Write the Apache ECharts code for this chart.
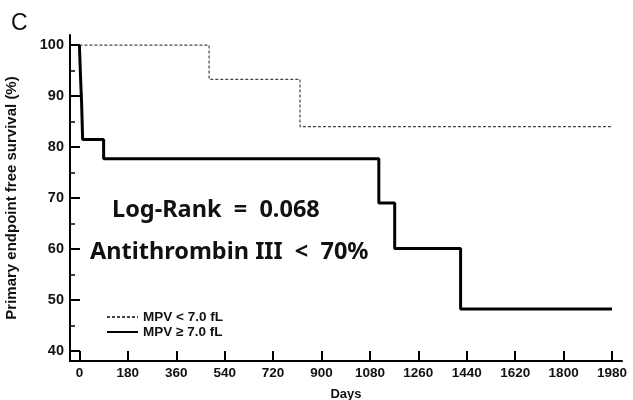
<!DOCTYPE html>
<html>
<head>
<meta charset="utf-8">
<script src="https://cdn.jsdelivr.net/npm/echarts@6/dist/echarts.min.js"></script>
<style>
  html, body { margin: 0; padding: 0; background: #fff; }
  #chart { width: 633px; height: 400px; }
</style>
</head>
<body>
<div id="chart"></div>
<script>
// Kaplan-Meier steps (days, survival %)
const lowDays = [0, 482, 820, 1980]
const lowSurv = [100, 93.3, 84.0, 84.0]
const highDays = [0, 5, 8, 12, 90, 1113, 1172, 1417, 1980]
const highSurv = [100, 92.6, 88.9, 81.5, 77.7, 69.0, 60.1, 48.2, 48.2]

const xTicks = [0, 180, 360, 540, 720, 900, 1080, 1260, 1440, 1620, 1800, 1980]
const yTicks = [40, 50, 60, 70, 80, 90, 100]
const yMinorTicks = [45, 55, 65, 75, 85, 95]

const seriesNames = ['MPV < 7.0 fL', 'MPV \u2265 7.0 fL']

const toPairs = (xs, ys) => xs.map((x, i) => [x, ys[i]])

const chart = echarts.init(document.getElementById('chart'))

const boldFont = { fontFamily: 'Liberation Sans', fontWeight: 'bold', color: '#111' }

const yBase = {
  type: 'value',
  min: 38,
  max: 102,
  splitLine: { show: false },
}

const option = {
  animation: false,
  grid: { left: 70, right: 11, top: 35, bottom: 39, outerBoundsMode: 'none' },
  legend: {
    orient: 'vertical',
    left: 101,
    top: 305,
    itemWidth: 31,
    itemHeight: 10,
    itemGap: 1,
    data: seriesNames,
    itemStyle: { opacity: 0 },
    textStyle: Object.assign({ fontSize: 13.5 }, boldFont),
  },
  xAxis: {
    type: 'value',
    min: -35,
    max: 2017,
    name: 'Days',
    nameLocation: 'middle',
    nameGap: 27,
    nameTextStyle: Object.assign({ fontSize: 13 }, boldFont),
    splitLine: { show: false },
    axisLine: { onZero: false, lineStyle: { color: '#000', width: 2 } },
    axisTick: { inside: true, length: 10, customValues: xTicks, lineStyle: { color: '#000', width: 2 } },
    axisLabel: Object.assign({ customValues: xTicks, margin: 5, fontSize: 13.5, formatter: v => String(v) }, boldFont),
  },
  yAxis: [
    Object.assign({}, yBase, {
      name: 'Primary endpoint free survival (%)',
      nameLocation: 'middle',
      nameGap: 51,
      nameTextStyle: Object.assign({ fontSize: 15 }, boldFont),
      axisLine: { show: true, onZero: false, lineStyle: { color: '#000', width: 2 } },
      axisTick: { inside: true, length: 10, customValues: yTicks, lineStyle: { color: '#000', width: 2 } },
      axisLabel: Object.assign({ customValues: yTicks, margin: 6, fontSize: 14.5 }, boldFont),
    }),
    Object.assign({}, yBase, {
      position: 'left',
      offset: 0,
      axisLine: { show: false, onZero: false },
      axisTick: { show: true, inside: true, length: 5, customValues: yMinorTicks, lineStyle: { color: '#000', width: 1.5 } },
      axisLabel: { show: false },
    }),
  ],
  graphic: [
    { type: 'text', left: 11, top: 12, style: { text: 'C', fontFamily: 'Liberation Sans', fontSize: 23, fill: '#111' } },
    { type: 'text', left: 112, top: 198, style: { text: 'Log-Rank  =  0.068', fontFamily: 'Noto Sans', fontWeight: 'bold', fontSize: 23.5, fill: '#111' } },
    { type: 'text', left: 90, top: 240, style: { text: 'Antithrombin III  <  70%', fontFamily: 'Noto Sans', fontWeight: 'bold', fontSize: 23.5, fill: '#111' } },
  ],
  series: [
    {
      name: seriesNames[0],
      type: 'line',
      step: 'end',
      symbol: 'none',
      data: toPairs(lowDays, lowSurv),
      lineStyle: { color: '#444', width: 1.2, type: [3, 2] },
      itemStyle: { color: '#444' },
      z: 3,
    },
    {
      name: seriesNames[1],
      type: 'line',
      step: 'end',
      symbol: 'none',
      data: toPairs(highDays, highSurv),
      lineStyle: { color: '#000', width: 3 },
      itemStyle: { color: '#000' },
      z: 4,
    },
  ],
}

chart.setOption(option)
</script>
</body>
</html>
